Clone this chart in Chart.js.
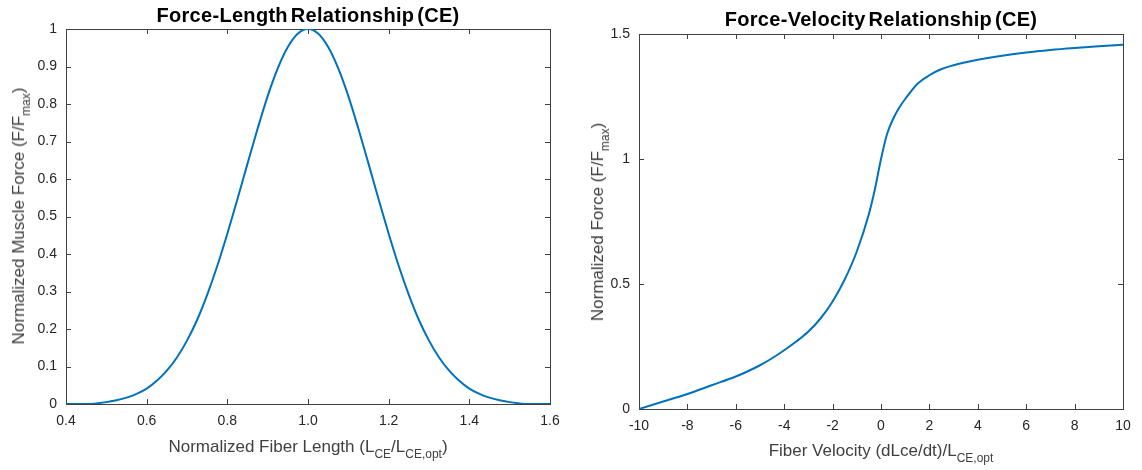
<!DOCTYPE html>
<html>
<head>
<meta charset="utf-8">
<script src="https://cdn.jsdelivr.net/npm/chart.js@4.4.1/dist/chart.umd.min.js"></script>
<style>
    body { margin: 0; background: #fff; width: 1142px; height: 470px; position: relative; overflow: hidden; font-family: "Liberation Sans", Arial, sans-serif; }
    canvas { position: absolute; top: 0; }
    .title { position: absolute; font-weight: bold; font-size: 20px; color: #000; white-space: nowrap; transform: translate(-50%, -50%); word-spacing: -3px; letter-spacing: 0.3px; }
    .xlab { position: absolute; font-size: 17px; color: #404040; white-space: nowrap; transform: translate(-50%, -50%); }
    .ylab { position: absolute; font-size: 17px; color: #404040; white-space: nowrap; transform: translate(-50%, -50%) rotate(-90deg); }
    sub { font-size: 12px; vertical-align: -6px; line-height: 0; }
</style>
</head>
<body>
<canvas id="lengthChart" width="571" height="470" style="left:0px"></canvas>
<canvas id="velocityChart" width="571" height="470" style="left:571px"></canvas>

<div class="title" style="left:308px; top:15px">Force-Length Relationship (CE)</div>
<div class="title" style="left:881px; top:19px">Force-Velocity Relationship (CE)</div>
<div class="xlab" style="left:308px; top:447px">Normalized Fiber Length (L<sub>CE</sub>/L<sub>CE,opt</sub>)</div>
<div class="xlab" style="left:881px; top:451px">Fiber Velocity (dLce/dt)/L<sub>CE,opt</sub></div>
<div class="ylab" style="left:19px; top:216px">Normalized Muscle Force (F/F<sub>max</sub>)</div>
<div class="ylab" style="left:598px; top:222px">Normalized Force (F/F<sub>max</sub>)</div>

<script>
// force-length curve (normalized fiber length vs normalized force)
const lengthX = [0.4, 0.45, 0.5, 0.525, 0.55, 0.575, 0.6, 0.625, 0.65, 0.675, 0.7, 0.725, 0.75, 0.775, 0.8, 0.825, 0.85, 0.875, 0.9, 0.925, 0.95, 0.975,
    1.0, 1.025, 1.05, 1.075, 1.1, 1.125, 1.15, 1.175, 1.2, 1.225, 1.25, 1.275, 1.3, 1.325, 1.35, 1.375, 1.4, 1.425, 1.45, 1.475, 1.5, 1.55, 1.6];
const lengthForce = [0, 0, 0.005, 0.010, 0.017, 0.027, 0.041, 0.062, 0.089, 0.124, 0.169, 0.224, 0.291, 0.368, 0.454, 0.546, 0.641, 0.734, 0.821, 0.895, 0.952, 0.988,
    1.0, 0.988, 0.952, 0.895, 0.821, 0.734, 0.641, 0.546, 0.454, 0.368, 0.291, 0.224, 0.169, 0.124, 0.089, 0.062, 0.041, 0.027, 0.017, 0.010, 0.005, 0, 0];

// force-velocity curve
const velocityX = [-10, -9, -8, -7, -6, -5.5, -5, -4.5, -4, -3.5, -3, -2.5, -2, -1.5, -1, -0.5, -0.25, 0, 0.25, 0.5, 0.75, 1, 1.5, 2, 2.5, 3, 3.5, 4, 5, 6, 7, 8, 9, 10];
const velocityForce = [0, 0.03, 0.06, 0.095, 0.13, 0.151, 0.175, 0.203, 0.235, 0.27, 0.31, 0.362, 0.43, 0.518, 0.63, 0.78, 0.88, 1.0, 1.1, 1.16, 1.205, 1.24, 1.3, 1.335, 1.36, 1.375, 1.387, 1.397, 1.413, 1.426, 1.436, 1.444, 1.451, 1.457];

const lengthTicksX = [0.4, 1.6, 0.2];
const lengthTicksY = [0, 1, 0.1];
const velocityTicksX = [-10, 10, 2];
const velocityTicksY = [0, 1.5, 0.5];

const lineColor = "#0072BD";
const axisColor = "#404040";

// matlab style box with inward ticks on every side
const boxAxes = {
    id: "boxAxes",
    beforeDatasetsDraw(chart) {
        const { ctx, chartArea: a, scales: { x, y } } = chart;
        ctx.save();
        ctx.strokeStyle = axisColor;
        ctx.lineWidth = 1;
        ctx.beginPath();
        x.ticks.forEach(t => {
            const px = Math.round(x.getPixelForValue(t.value)) + 0.5;
            ctx.moveTo(px, a.bottom); ctx.lineTo(px, a.bottom - 5);
            ctx.moveTo(px, a.top); ctx.lineTo(px, a.top + 5);
        });
        y.ticks.forEach(t => {
            const py = Math.round(y.getPixelForValue(t.value)) + 0.5;
            ctx.moveTo(a.left, py); ctx.lineTo(a.left + 5, py);
            ctx.moveTo(a.right, py); ctx.lineTo(a.right - 5, py);
        });
        ctx.stroke();
        ctx.strokeRect(Math.round(a.left) + 0.5, Math.round(a.top) + 0.5, Math.round(a.right - a.left), Math.round(a.bottom - a.top));
        ctx.restore();
    }
};

function makeChart(canvasId, xs, ys, ticksX, ticksY, fmtX, fmtY, padding, yWidth, xHeight) {
    const tickFont = { family: "'Liberation Sans', Arial, sans-serif", size: 14 };
    return new Chart(document.getElementById(canvasId), {
        type: "line",
        data: {
            datasets: [{
                data: xs.map((v, i) => ({ x: v, y: ys[i] })),
                borderColor: lineColor,
                borderWidth: 2,
                pointRadius: 0,
                cubicInterpolationMode: "monotone",
                fill: false
            }]
        },
        options: {
            responsive: false,
            animation: false,
            layout: { padding: padding },
            plugins: { legend: { display: false }, tooltip: { enabled: false } },
            scales: {
                x: {
                    type: "linear",
                    min: ticksX[0], max: ticksX[1],
                    grid: { display: false, drawTicks: false },
                    border: { display: false },
                    ticks: { stepSize: ticksX[2], color: "#262626", font: tickFont, padding: 9, maxRotation: 0, callback: fmtX },
                    afterFit: s => { s.height = xHeight; }
                },
                y: {
                    min: ticksY[0], max: ticksY[1],
                    grid: { display: false, drawTicks: false },
                    border: { display: false },
                    ticks: { stepSize: ticksY[2], color: "#262626", font: tickFont, padding: 9, callback: fmtY },
                    afterFit: s => { s.width = yWidth; }
                }
            }
        },
        plugins: [boxAxes]
    });
}

function plainNum(v) {
    const r = Math.round(v * 10) / 10;
    return Number.isInteger(r) ? String(r) : r.toFixed(1);
}

makeChart("lengthChart", lengthX, lengthForce, lengthTicksX, lengthTicksY,
    v => (Math.round(v * 10) / 10).toFixed(1), plainNum,
    { top: 29, right: 21, left: 0, bottom: 0 }, 66, 66);

makeChart("velocityChart", velocityX, velocityForce, velocityTicksX, velocityTicksY,
    v => String(Math.round(v)), plainNum,
    { top: 34, right: 19, left: 0, bottom: 0 }, 68, 61);
</script>
</body>
</html>
